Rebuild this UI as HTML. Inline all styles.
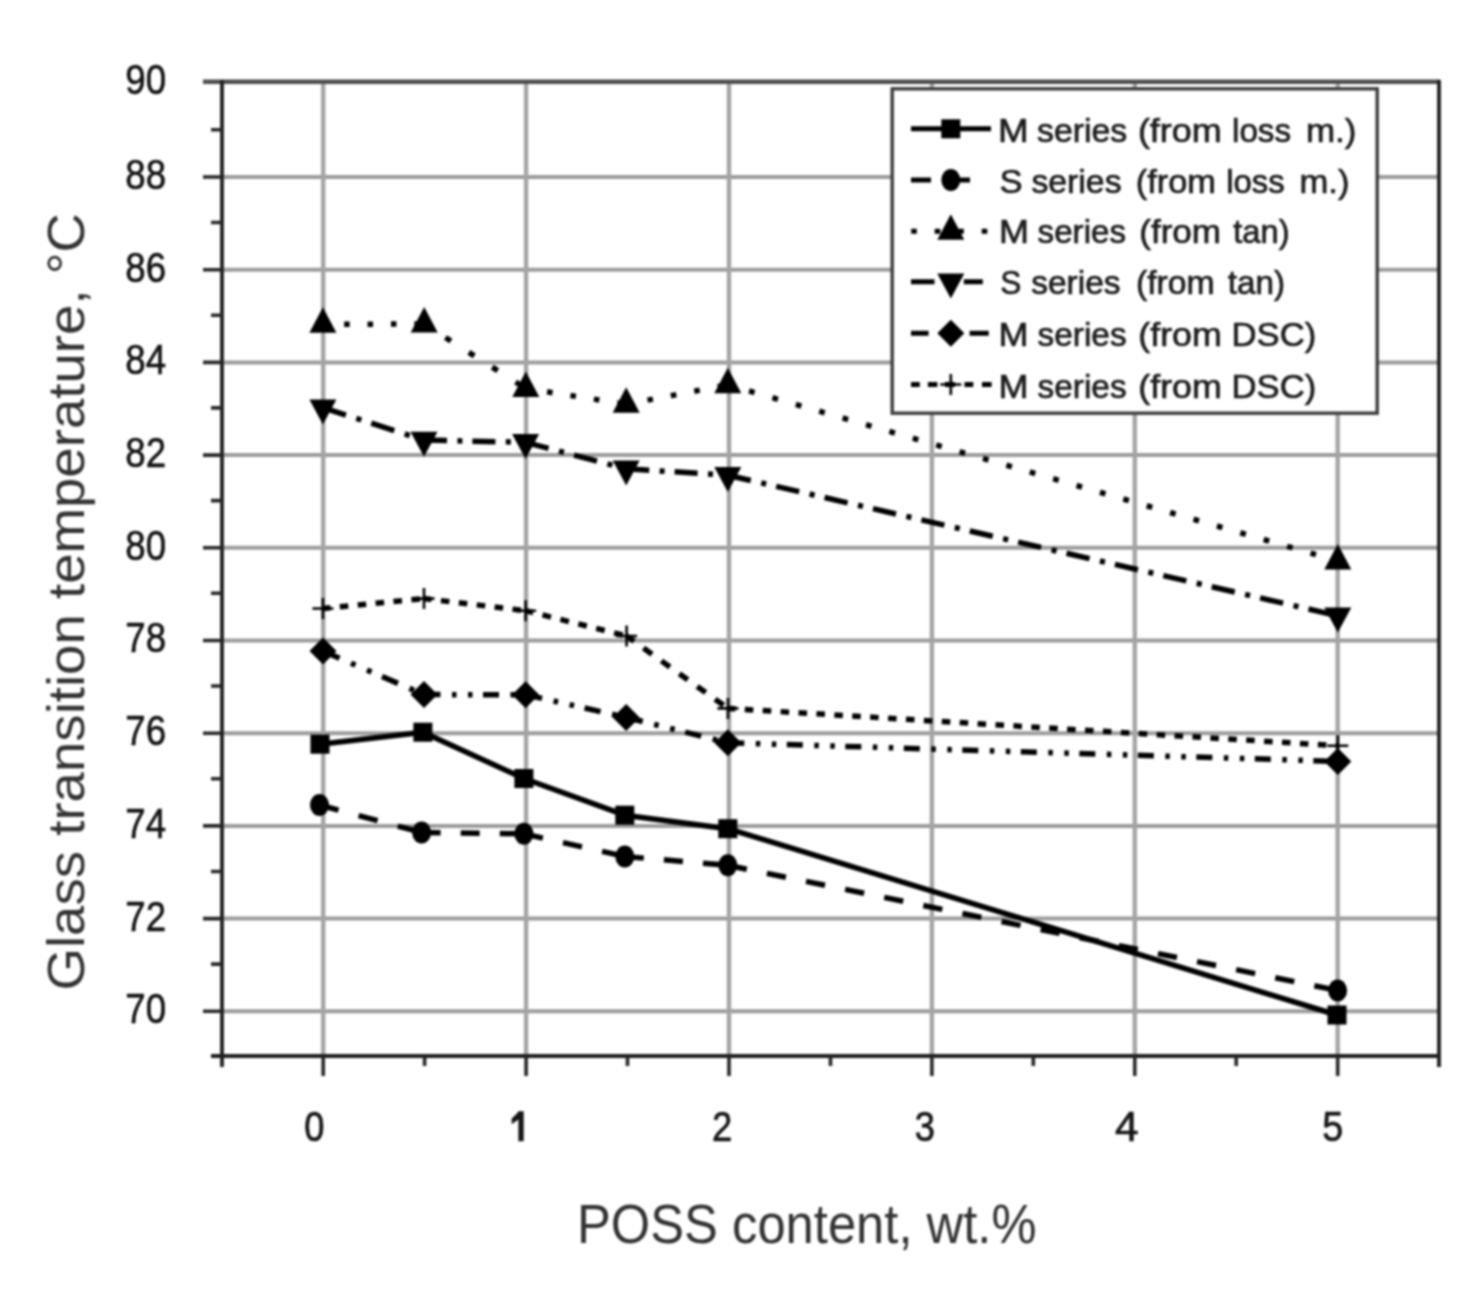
<!DOCTYPE html><html><head><meta charset="utf-8"><style>html,body{margin:0;padding:0;background:#fff;width:1476px;height:1296px;overflow:hidden}svg{display:block;filter:blur(0.8px)}text{font-family:"Liberation Sans",sans-serif}</style></head><body>
<svg width="1476" height="1296" viewBox="0 0 1476 1296">
<rect width="1476" height="1296" fill="#fff"/>
<path d="M222 1011.3H1439 M222 918.6H1439 M222 825.9H1439 M222 733.2H1439 M222 640.5H1439 M222 547.8H1439 M222 455.1H1439 M222 362.4H1439 M222 269.7H1439 M222 177.0H1439" stroke="#9c9c9c" stroke-width="4" fill="none"/>
<path d="M323.2 82V1056 M526.1 82V1056 M729.0 82V1056 M931.9 82V1056 M1134.8 82V1056 M1337.7 82V1056" stroke="#a4a4a4" stroke-width="4.4" fill="none"/>
<path d="M203 81.8H1440" stroke="#4d4d4d" stroke-width="4.6" fill="none"/>
<path d="M222 80V1067M1439 80V1067M211 1056H1440" stroke="#1e1e1e" stroke-width="3.8" fill="none"/>
<path d="M203 1011.3H222 M203 918.6H222 M203 825.9H222 M203 733.2H222 M203 640.5H222 M203 547.8H222 M203 455.1H222 M203 362.4H222 M203 269.7H222 M203 177.0H222 M211 964.1H222 M211 871.5H222 M211 778.8H222 M211 686.0H222 M211 593.3H222 M211 500.6H222 M211 407.9H222 M211 315.2H222 M211 222.5H222 M211 129.8H222 M323.2 1056V1076 M526.1 1056V1076 M729.0 1056V1076 M931.9 1056V1076 M1134.8 1056V1076 M1337.7 1056V1076 M424.6 1056V1066 M627.5 1056V1066 M830.5 1056V1066 M1033.3 1056V1066 M1236.2 1056V1066" stroke="#262626" stroke-width="3.6" fill="none"/>
<text x="125.3" y="1023.2" font-size="42.5" textLength="40.8" lengthAdjust="spacingAndGlyphs" fill="#111" stroke="#111" stroke-width="0.6">70</text>
<text x="125.3" y="930.5" font-size="42.5" textLength="40.8" lengthAdjust="spacingAndGlyphs" fill="#111" stroke="#111" stroke-width="0.6">72</text>
<text x="125.3" y="837.8" font-size="42.5" textLength="40.8" lengthAdjust="spacingAndGlyphs" fill="#111" stroke="#111" stroke-width="0.6">74</text>
<text x="125.3" y="745.1" font-size="42.5" textLength="40.8" lengthAdjust="spacingAndGlyphs" fill="#111" stroke="#111" stroke-width="0.6">76</text>
<text x="125.3" y="652.4" font-size="42.5" textLength="40.8" lengthAdjust="spacingAndGlyphs" fill="#111" stroke="#111" stroke-width="0.6">78</text>
<text x="125.3" y="559.7" font-size="42.5" textLength="40.8" lengthAdjust="spacingAndGlyphs" fill="#111" stroke="#111" stroke-width="0.6">80</text>
<text x="125.3" y="467.0" font-size="42.5" textLength="40.8" lengthAdjust="spacingAndGlyphs" fill="#111" stroke="#111" stroke-width="0.6">82</text>
<text x="125.3" y="374.3" font-size="42.5" textLength="40.8" lengthAdjust="spacingAndGlyphs" fill="#111" stroke="#111" stroke-width="0.6">84</text>
<text x="125.3" y="281.6" font-size="42.5" textLength="40.8" lengthAdjust="spacingAndGlyphs" fill="#111" stroke="#111" stroke-width="0.6">86</text>
<text x="125.3" y="188.9" font-size="42.5" textLength="40.8" lengthAdjust="spacingAndGlyphs" fill="#111" stroke="#111" stroke-width="0.6">88</text>
<text x="125.3" y="93.6" font-size="42.5" textLength="40.8" lengthAdjust="spacingAndGlyphs" fill="#111" stroke="#111" stroke-width="0.6">90</text>
<text x="304.3" y="1140.6" font-size="42.5" textLength="20.2" lengthAdjust="spacingAndGlyphs" fill="#151515" stroke="#151515" stroke-width="0.7">0</text>
<path d="M518.4 1111.3H523.7V1141.2H518.4V1119.6L511.7 1124.2V1118.6L517.2 1113.2Z" fill="#151515"/>
<text x="711.9" y="1140.6" font-size="42.5" textLength="20.3" lengthAdjust="spacingAndGlyphs" fill="#151515" stroke="#151515" stroke-width="0.7">2</text>
<text x="914.7" y="1140.6" font-size="42.5" textLength="20.2" lengthAdjust="spacingAndGlyphs" fill="#151515" stroke="#151515" stroke-width="0.7">3</text>
<text x="1115.0" y="1140.6" font-size="42.5" textLength="23.6" lengthAdjust="spacingAndGlyphs" fill="#151515" stroke="#151515" stroke-width="0.7">4</text>
<text x="1322.3" y="1140.6" font-size="42.5" textLength="21.0" lengthAdjust="spacingAndGlyphs" fill="#151515" stroke="#151515" stroke-width="0.7">5</text>
<text x="577" y="1242.5" font-size="55" textLength="459.5" lengthAdjust="spacingAndGlyphs" fill="#333">POSS content, wt.%</text>
<text transform="translate(83.5 990.5) rotate(-90)" font-size="52.5" textLength="777.5" lengthAdjust="spacingAndGlyphs" fill="#333">Glass transition temperature, °C</text>
<g fill="none" stroke="#000" stroke-linecap="butt">
<path d="M320.0 744.2 L422.9 732.2 L523.9 778.5 L624.8 815.2 L727.8 828.7 L1337.0 1015.0" stroke-width="5.5" stroke-linejoin="round"/>
<path d="M319.5 805.0L421.6 832.5" stroke-width="5.5" stroke-dasharray="19.68 20.82" stroke-dashoffset="0.00"/><path d="M421.6 832.5L523.9 833.8" stroke-width="5.5" stroke-dasharray="19.00 20.10" stroke-dashoffset="0.00"/><path d="M523.9 833.8L624.8 856.5" stroke-width="5.5" stroke-dasharray="19.47 20.60" stroke-dashoffset="0.00"/><path d="M624.8 856.5L727.8 865.3" stroke-width="5.5" stroke-dasharray="19.07 20.17" stroke-dashoffset="0.00"/><path d="M727.8 865.3L1337.6 990.5" stroke-width="5.5" stroke-dasharray="19.40 20.52" stroke-dashoffset="0.00"/>
<path d="M322.9 324.3L424.2 324.0" stroke-width="5.5" stroke-dasharray="5.50 17.90" stroke-dashoffset="2.15"/><path d="M424.2 324.0L525.8 388.5" stroke-width="5.5" stroke-dasharray="6.51 21.20" stroke-dashoffset="2.55"/><path d="M525.8 388.5L626.2 404.2" stroke-width="5.5" stroke-dasharray="5.57 18.12" stroke-dashoffset="2.18"/><path d="M626.2 404.2L727.8 384.8" stroke-width="5.5" stroke-dasharray="5.60 18.22" stroke-dashoffset="2.19"/><path d="M727.8 384.8L1337.8 560.9" stroke-width="5.5" stroke-dasharray="5.72 18.63" stroke-dashoffset="2.24"/>
<path d="M322.9 407.7L424.0 440.1" stroke-width="5.5" stroke-dasharray="24.15 10.92 5.25 10.50" stroke-dashoffset="0.00"/><path d="M424.0 440.1L525.6 442.3" stroke-width="5.5" stroke-dasharray="23.01 10.40 5.00 10.00" stroke-dashoffset="0.00"/><path d="M525.6 442.3L626.2 468.8" stroke-width="5.5" stroke-dasharray="23.78 10.75 5.17 10.34" stroke-dashoffset="0.00"/><path d="M626.2 468.8L727.8 475.2" stroke-width="5.5" stroke-dasharray="23.05 10.42 5.01 10.02" stroke-dashoffset="0.00"/><path d="M727.8 475.2L1337.8 615.8" stroke-width="5.5" stroke-dasharray="23.60 10.67 5.13 10.26" stroke-dashoffset="0.00"/>
<path d="M323.0 651.1L424.0 694.6" stroke-width="5.5" stroke-dasharray="17.42 12.52 4.90 12.52 4.90 11.43" stroke-dashoffset="63.15"/><path d="M424.0 694.6L525.6 694.7" stroke-width="5.5" stroke-dasharray="16.00 11.50 4.50 11.50 4.50 10.50" stroke-dashoffset="58.00"/><path d="M525.6 694.7L626.2 717.4" stroke-width="5.5" stroke-dasharray="16.40 11.79 4.61 11.79 4.61 10.76" stroke-dashoffset="59.46"/><path d="M626.2 717.4L727.8 742.8" stroke-width="5.5" stroke-dasharray="16.49 11.85 4.64 11.85 4.64 10.82" stroke-dashoffset="59.79"/><path d="M727.8 742.8L1337.8 761.4" stroke-width="5.5" stroke-dasharray="16.01 11.51 4.50 11.51 4.50 10.50" stroke-dashoffset="58.03"/>
<path d="M322.9 608.5L424.0 598.6" stroke-width="5.5" stroke-dasharray="8.54 9.44" stroke-dashoffset="1.00"/><path d="M424.0 598.6L525.6 610.7" stroke-width="5.5" stroke-dasharray="8.56 9.47" stroke-dashoffset="1.01"/><path d="M525.6 610.7L626.6 636.0" stroke-width="5.5" stroke-dasharray="8.76 9.69" stroke-dashoffset="1.03"/><path d="M626.6 636.0L727.9 708.4" stroke-width="5.5" stroke-dasharray="10.45 11.55" stroke-dashoffset="1.23"/><path d="M727.9 708.4L1337.8 745.7" stroke-width="5.5" stroke-dasharray="8.52 9.42" stroke-dashoffset="1.00"/>
</g>
<g fill="#000">
<rect x="310.5" y="734.7" width="19.0" height="19.0"/>
<rect x="413.4" y="722.7" width="19.0" height="19.0"/>
<rect x="514.4" y="769.0" width="19.0" height="19.0"/>
<rect x="615.3" y="805.7" width="19.0" height="19.0"/>
<rect x="718.3" y="819.2" width="19.0" height="19.0"/>
<rect x="1327.5" y="1005.5" width="19.0" height="19.0"/>
<ellipse cx="319.5" cy="805.0" rx="9.5" ry="11.0"/>
<ellipse cx="421.6" cy="832.5" rx="9.5" ry="11.0"/>
<ellipse cx="523.9" cy="833.8" rx="9.5" ry="11.0"/>
<ellipse cx="624.8" cy="856.5" rx="9.5" ry="11.0"/>
<ellipse cx="727.8" cy="865.3" rx="9.5" ry="11.0"/>
<ellipse cx="1337.6" cy="990.5" rx="9.5" ry="11.0"/>
<path d="M322.9 307.3L336.4 332.8L309.4 332.8Z"/>
<path d="M424.2 307.0L437.7 332.5L410.7 332.5Z"/>
<path d="M525.8 371.5L539.3 397.0L512.3 397.0Z"/>
<path d="M626.2 387.2L639.7 412.7L612.7 412.7Z"/>
<path d="M727.8 367.8L741.3 393.3L714.3 393.3Z"/>
<path d="M1337.8 543.9L1351.3 569.4L1324.3 569.4Z"/>
<path d="M309.4 399.4L336.4 399.4L322.9 424.4Z"/>
<path d="M410.5 431.8L437.5 431.8L424.0 456.8Z"/>
<path d="M512.1 434.0L539.1 434.0L525.6 459.0Z"/>
<path d="M612.7 460.5L639.7 460.5L626.2 485.5Z"/>
<path d="M714.3 466.9L741.3 466.9L727.8 491.9Z"/>
<path d="M1324.3 607.5L1351.3 607.5L1337.8 632.5Z"/>
<path d="M323.0 637.6L336.5 651.1L323.0 664.6L309.5 651.1Z"/>
<path d="M424.0 681.1L437.5 694.6L424.0 708.1L410.5 694.6Z"/>
<path d="M525.6 681.2L539.1 694.7L525.6 708.2L512.1 694.7Z"/>
<path d="M626.2 703.9L639.7 717.4L626.2 730.9L612.7 717.4Z"/>
<path d="M727.8 729.3L741.3 742.8L727.8 756.3L714.3 742.8Z"/>
<path d="M1337.8 747.9L1351.3 761.4L1337.8 774.9L1324.3 761.4Z"/>
<path d="M312.4 608.5H333.4M322.9 598.0V619.0" fill="none" stroke="#000" stroke-width="2.6"/>
<path d="M413.5 598.6H434.5M424.0 588.1V609.1" fill="none" stroke="#000" stroke-width="2.6"/>
<path d="M515.1 610.7H536.1M525.6 600.2V621.2" fill="none" stroke="#000" stroke-width="2.6"/>
<path d="M616.1 636.0H637.1M626.6 625.5V646.5" fill="none" stroke="#000" stroke-width="2.6"/>
<path d="M717.4 708.4H738.4M727.9 697.9V718.9" fill="none" stroke="#000" stroke-width="2.6"/>
<path d="M1327.3 745.7H1348.3M1337.8 735.2V756.2" fill="none" stroke="#000" stroke-width="2.6"/>
</g>
<rect x="892.2" y="88.8" width="485" height="324.4" fill="#fff" stroke="#3c3c3c" stroke-width="3.4"/>
<path d="M911.0 128.8H991.0" stroke="#000" stroke-width="5" fill="none"/>
<g fill="#000"><rect x="941.3" y="119.3" width="19.0" height="19.0"/></g>
<text x="998.1" y="141.5" font-size="33" textLength="30.7" lengthAdjust="spacingAndGlyphs" fill="#1c1c1c" stroke="#1c1c1c" stroke-width="0.7">M</text>
<text x="1037.0" y="141.5" font-size="33" textLength="90.2" lengthAdjust="spacingAndGlyphs" fill="#1c1c1c" stroke="#1c1c1c" stroke-width="0.7">series</text>
<text x="1137.9" y="141.5" font-size="33" textLength="83.9" lengthAdjust="spacingAndGlyphs" fill="#1c1c1c" stroke="#1c1c1c" stroke-width="0.7">(from</text>
<text x="1232.0" y="141.5" font-size="33" textLength="59.1" lengthAdjust="spacingAndGlyphs" fill="#1c1c1c" stroke="#1c1c1c" stroke-width="0.7">loss</text>
<text x="1305.9" y="141.5" font-size="33" textLength="50.5" lengthAdjust="spacingAndGlyphs" fill="#1c1c1c" stroke="#1c1c1c" stroke-width="0.7">m.)</text>
<path d="M911.0 180.0H931.0M948.0 180.0H970.0" stroke="#000" stroke-width="5" fill="none"/>
<g fill="#000"><ellipse cx="950.8" cy="180.0" rx="9.5" ry="11.0"/></g>
<text x="999.4" y="192.8" font-size="33" textLength="23.1" lengthAdjust="spacingAndGlyphs" fill="#1c1c1c" stroke="#1c1c1c" stroke-width="0.7">S</text>
<text x="1031.4" y="192.8" font-size="33" textLength="90.2" lengthAdjust="spacingAndGlyphs" fill="#1c1c1c" stroke="#1c1c1c" stroke-width="0.7">series</text>
<text x="1135.8" y="192.8" font-size="33" textLength="80.2" lengthAdjust="spacingAndGlyphs" fill="#1c1c1c" stroke="#1c1c1c" stroke-width="0.7">(from</text>
<text x="1226.2" y="192.8" font-size="33" textLength="58.5" lengthAdjust="spacingAndGlyphs" fill="#1c1c1c" stroke="#1c1c1c" stroke-width="0.7">loss</text>
<text x="1299.5" y="192.8" font-size="33" textLength="50.0" lengthAdjust="spacingAndGlyphs" fill="#1c1c1c" stroke="#1c1c1c" stroke-width="0.7">m.)</text>
<path d="M911.2 231.3H916.8M934.7 231.3H940.3M958.2 231.3H963.8M981.7 231.3H987.3" stroke="#000" stroke-width="5" fill="none"/>
<g fill="#000"><path d="M950.8 214.3L964.3 239.8L937.3 239.8Z"/></g>
<text x="998.9" y="243.0" font-size="33" textLength="30.0" lengthAdjust="spacingAndGlyphs" fill="#1c1c1c" stroke="#1c1c1c" stroke-width="0.7">M</text>
<text x="1037.6" y="243.0" font-size="33" textLength="88.4" lengthAdjust="spacingAndGlyphs" fill="#1c1c1c" stroke="#1c1c1c" stroke-width="0.7">series</text>
<text x="1139.2" y="243.0" font-size="33" textLength="81.9" lengthAdjust="spacingAndGlyphs" fill="#1c1c1c" stroke="#1c1c1c" stroke-width="0.7">(from</text>
<text x="1233.2" y="243.0" font-size="33" textLength="56.4" lengthAdjust="spacingAndGlyphs" fill="#1c1c1c" stroke="#1c1c1c" stroke-width="0.7">tan)</text>
<path d="M911.0 281.8H934.5M963.8 281.8H982.8" stroke="#000" stroke-width="5" fill="none"/>
<g fill="#000"><path d="M937.3 273.5L964.3 273.5L950.8 298.5Z"/></g>
<text x="1000.2" y="293.7" font-size="33" textLength="21.1" lengthAdjust="spacingAndGlyphs" fill="#1c1c1c" stroke="#1c1c1c" stroke-width="0.7">S</text>
<text x="1031.2" y="293.7" font-size="33" textLength="89.4" lengthAdjust="spacingAndGlyphs" fill="#1c1c1c" stroke="#1c1c1c" stroke-width="0.7">series</text>
<text x="1136.0" y="293.7" font-size="33" textLength="78.7" lengthAdjust="spacingAndGlyphs" fill="#1c1c1c" stroke="#1c1c1c" stroke-width="0.7">(from</text>
<text x="1227.8" y="293.7" font-size="33" textLength="57.4" lengthAdjust="spacingAndGlyphs" fill="#1c1c1c" stroke="#1c1c1c" stroke-width="0.7">tan)</text>
<path d="M911.0 333.2H928.6M969.6 333.2H988.7" stroke="#000" stroke-width="5" fill="none"/>
<g fill="#000"><path d="M950.8 319.7L964.3 333.2L950.8 346.7L937.3 333.2Z"/></g>
<text x="998.6" y="345.8" font-size="33" textLength="30.0" lengthAdjust="spacingAndGlyphs" fill="#1c1c1c" stroke="#1c1c1c" stroke-width="0.7">M</text>
<text x="1037.6" y="345.8" font-size="33" textLength="89.0" lengthAdjust="spacingAndGlyphs" fill="#1c1c1c" stroke="#1c1c1c" stroke-width="0.7">series</text>
<text x="1138.3" y="345.8" font-size="33" textLength="83.5" lengthAdjust="spacingAndGlyphs" fill="#1c1c1c" stroke="#1c1c1c" stroke-width="0.7">(from</text>
<text x="1231.5" y="345.8" font-size="33" textLength="84.7" lengthAdjust="spacingAndGlyphs" fill="#1c1c1c" stroke="#1c1c1c" stroke-width="0.7">DSC)</text>
<path d="M911.0 384.5H919.8M927.9 384.5H937.4M945.0 384.5H955.0M964.5 384.5H973.3M982.0 384.5H991.6" stroke="#000" stroke-width="5" fill="none"/>
<g fill="#000"><path d="M940.3 384.5H961.3M950.8 374.0V395.0" fill="none" stroke="#000" stroke-width="2.6"/></g>
<text x="998.6" y="397.6" font-size="33" textLength="30.0" lengthAdjust="spacingAndGlyphs" fill="#1c1c1c" stroke="#1c1c1c" stroke-width="0.7">M</text>
<text x="1037.6" y="397.6" font-size="33" textLength="89.0" lengthAdjust="spacingAndGlyphs" fill="#1c1c1c" stroke="#1c1c1c" stroke-width="0.7">series</text>
<text x="1138.3" y="397.6" font-size="33" textLength="83.5" lengthAdjust="spacingAndGlyphs" fill="#1c1c1c" stroke="#1c1c1c" stroke-width="0.7">(from</text>
<text x="1231.5" y="397.6" font-size="33" textLength="84.7" lengthAdjust="spacingAndGlyphs" fill="#1c1c1c" stroke="#1c1c1c" stroke-width="0.7">DSC)</text>
</svg></body></html>
